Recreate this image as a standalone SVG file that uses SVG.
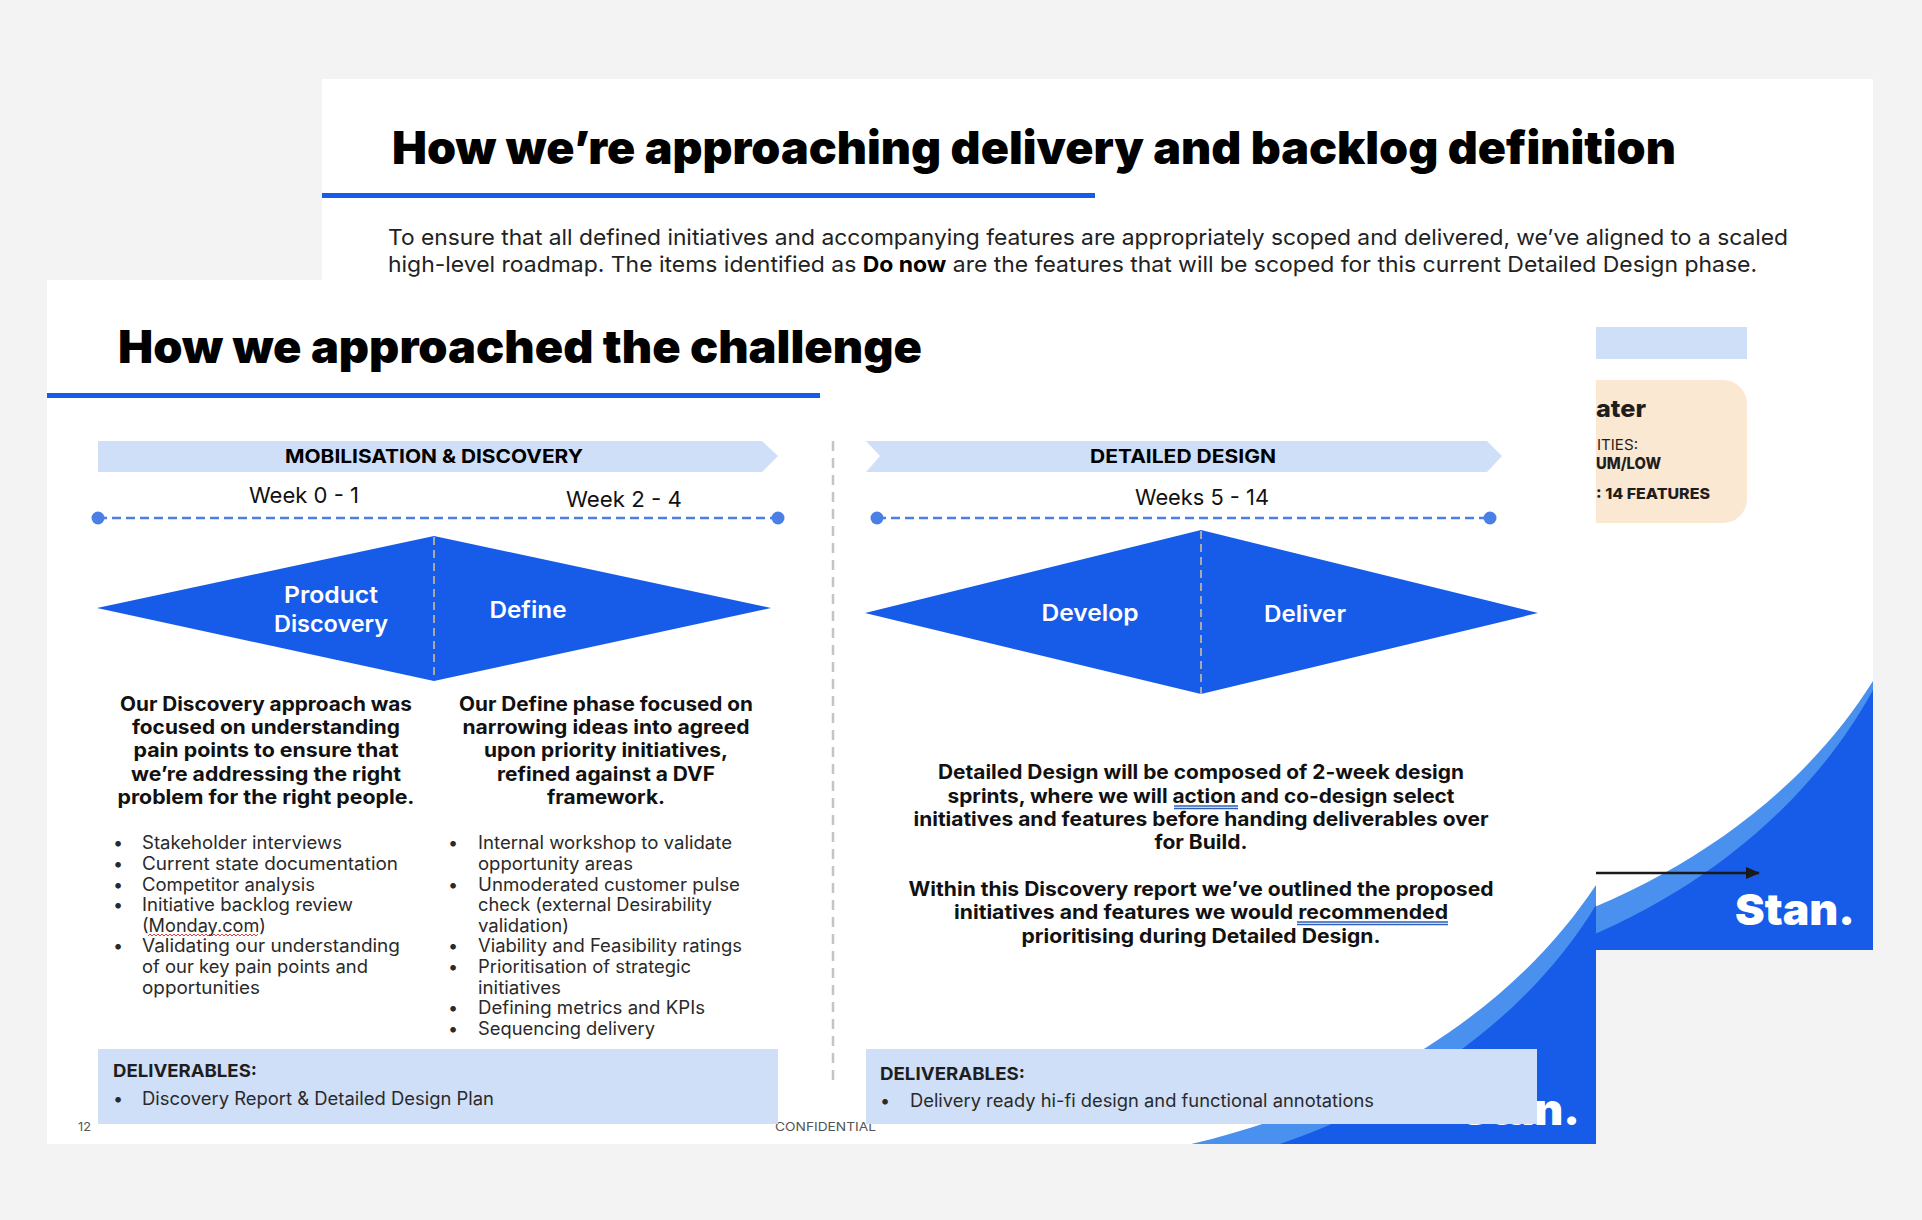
<svg xmlns="http://www.w3.org/2000/svg" width="1922" height="1220" viewBox="0 0 1922 1220">
<defs>
<marker id="ah" markerUnits="userSpaceOnUse" markerWidth="14" markerHeight="12" refX="13" refY="6" orient="auto"><path d="M0,0L14,6L0,12Z" fill="#1a1a1a"/></marker>
<clipPath id="cb"><rect x="322" y="79" width="1551" height="871"/></clipPath>
<clipPath id="cf"><rect x="47" y="280" width="1549" height="864"/></clipPath>
</defs>
<style>
text{font-family:"Inter","Liberation Sans",sans-serif;fill:#1e1e1e}
.t{font-weight:900;font-size:46px;fill:#000}
.p{font-size:22px;fill:#222}
.b{font-weight:700;font-size:20px;fill:#111;text-anchor:middle}
.l{font-size:18px;fill:#2a2a2a}
.h{font-weight:700;font-size:19px;fill:#000;text-anchor:middle}
.w{font-size:22px;fill:#111}
.d{font-weight:600;font-size:23px;fill:#fff;text-anchor:middle}
.f{font-size:12px;fill:#555}
.logo{font-weight:900;font-size:43px;fill:#fff}
.blue{fill:#175ce8}.lb{fill:#4a90ee}.pale{fill:#cfdff8}
.u{stroke:#2f5fb8;stroke-width:1.5;fill:none}
</style>
<rect width="1922" height="1220" fill="#f3f3f3"/>

<g id="back-slide">
<rect x="322" y="79" width="1551" height="871" fill="#fff"/>
<g clip-path="url(#cb)">
<path class="lb" d="M1464,950C1637,908 1787,818 1873,681V950Z"/>
<path class="blue" d="M1554,950C1687,903 1807,811 1873,690V950Z"/>
</g>
<text class="t" x="392" y="164" textLength="1284" lengthAdjust="spacingAndGlyphs">How we’re approaching delivery and backlog definition</text>
<rect class="blue" x="322" y="193" width="773" height="5"/>
<text class="p" x="388" y="245" textLength="1400" lengthAdjust="spacingAndGlyphs">To ensure that all defined initiatives and accompanying features are appropriately scoped and delivered, we’ve aligned to a scaled</text>
<text class="p" x="388" y="272" textLength="1369" lengthAdjust="spacingAndGlyphs">high-level roadmap. The items identified as <tspan font-weight="700" fill="#000">Do now</tspan> are the features that will be scoped for this current Detailed Design phase.</text>
<rect class="pale" x="1500" y="327" width="247" height="32"/>
<rect x="1480" y="380" width="267" height="143" rx="24" fill="#fbe8d3"/>
<text x="1596" y="417" font-size="24" font-weight="800" fill="#000" textLength="50" lengthAdjust="spacingAndGlyphs">ater</text>
<text x="1597" y="450" font-size="15" textLength="41" lengthAdjust="spacingAndGlyphs">ITIES:</text>
<text x="1596" y="469" font-size="16" font-weight="800" fill="#000" textLength="65" lengthAdjust="spacingAndGlyphs">UM/LOW</text>
<text x="1596" y="499" font-size="15" font-weight="800" fill="#000" textLength="114" lengthAdjust="spacingAndGlyphs">: 14 FEATURES</text>
<text class="logo" x="1735" y="925" textLength="120" lengthAdjust="spacingAndGlyphs">Stan.</text>
</g>

<g id="connectors-back"><line x1="1500" y1="873" x2="1759" y2="873" stroke="#1a1a1a" stroke-width="2.5" marker-end="url(#ah)"/></g>

<g id="front-slide">
<rect x="47" y="280" width="1549" height="864" fill="#fff"/>
<g clip-path="url(#cf)">
<path class="lb" d="M1187,1145C1360,1105 1510,1015 1596,885V1145Z"/>
<path class="blue" d="M1277,1145C1410,1100 1530,1015 1596,905V1145Z"/>
</g>
<text class="logo" x="1460" y="1125" textLength="120" lengthAdjust="spacingAndGlyphs">Stan.</text>
<text class="t" x="118" y="363" textLength="804" lengthAdjust="spacingAndGlyphs">How we approached the challenge</text>
<rect class="blue" x="47" y="393" width="773" height="5"/>
<text class="f" x="78" y="1131" textLength="13" lengthAdjust="spacingAndGlyphs">12</text>
<text class="f" x="775" y="1131" textLength="101" lengthAdjust="spacingAndGlyphs">CONFIDENTIAL</text>
</g>

<g id="connectors">
<line x1="833" y1="441" x2="833" y2="1087" stroke="#c4c4c4" stroke-width="2.5" stroke-dasharray="10 7"/>
<line x1="98" y1="518" x2="778" y2="518" stroke="#4a7fe6" stroke-width="2.5" stroke-dasharray="9 5"/>
<circle cx="98" cy="518" r="6.500" fill="#4a7fe6"/><circle cx="778" cy="518" r="6.500" fill="#4a7fe6"/>
<line x1="877" y1="518" x2="1490" y2="518" stroke="#4a7fe6" stroke-width="2.5" stroke-dasharray="9 5"/>
<circle cx="877" cy="518" r="6.500" fill="#4a7fe6"/><circle cx="1490" cy="518" r="6.500" fill="#4a7fe6"/>
</g>

<g id="banner-discovery">
<path class="pale" d="M98,441H762L778,456L762,472H98Z"/>
<text class="h" x="434" y="463" textLength="298" lengthAdjust="spacingAndGlyphs">MOBILISATION &amp; DISCOVERY</text>
</g>
<g id="banner-design">
<path class="pale" d="M866,441H1487L1502,456L1487,472H866L880,456Z"/>
<text class="h" x="1183" y="463" textLength="186" lengthAdjust="spacingAndGlyphs">DETAILED DESIGN</text>
</g>
<g id="weeks">
<text class="w" x="249" y="503" textLength="110" lengthAdjust="spacingAndGlyphs">Week 0 - 1</text>
<text class="w" x="566" y="507" textLength="116" lengthAdjust="spacingAndGlyphs">Week 2 - 4</text>
<text class="w" x="1135" y="505" textLength="134" lengthAdjust="spacingAndGlyphs">Weeks 5 - 14</text>
</g>

<g id="diamond-left">
<path class="blue" d="M97,608L434,536L771,608L434,681Z"/>
<line x1="434" y1="537" x2="434" y2="680" stroke="#a9a9a9" stroke-width="2" stroke-dasharray="8 5"/>
<text class="d" x="331" y="603" textLength="94" lengthAdjust="spacingAndGlyphs">Product</text>
<text class="d" x="331" y="632" textLength="114" lengthAdjust="spacingAndGlyphs">Discovery</text>
<text class="d" x="528" y="618" textLength="77" lengthAdjust="spacingAndGlyphs">Define</text>
</g>
<g id="diamond-right">
<path class="blue" d="M865,613L1201,530L1538,613L1201,694Z"/>
<line x1="1201" y1="531" x2="1201" y2="694" stroke="#a9a9a9" stroke-width="2" stroke-dasharray="8 5"/>
<text class="d" x="1090" y="621" textLength="97" lengthAdjust="spacingAndGlyphs">Develop</text>
<text class="d" x="1305" y="622" textLength="82" lengthAdjust="spacingAndGlyphs">Deliver</text>
</g>

<g id="discovery-text">
<text class="b" x="266" y="711" textLength="292" lengthAdjust="spacingAndGlyphs">Our Discovery approach was</text>
<text class="b" x="266" y="734" textLength="268" lengthAdjust="spacingAndGlyphs">focused on understanding</text>
<text class="b" x="266" y="757" textLength="265" lengthAdjust="spacingAndGlyphs">pain points to ensure that</text>
<text class="b" x="266" y="781" textLength="270" lengthAdjust="spacingAndGlyphs">we’re addressing the right</text>
<text class="b" x="266" y="804" textLength="297" lengthAdjust="spacingAndGlyphs">problem for the right people.</text>
<text class="l" x="113" y="849">•</text><text class="l" x="142" y="849" textLength="200" lengthAdjust="spacingAndGlyphs">Stakeholder interviews</text>
<text class="l" x="113" y="870">•</text><text class="l" x="142" y="870" textLength="256" lengthAdjust="spacingAndGlyphs">Current state documentation</text>
<text class="l" x="113" y="891">•</text><text class="l" x="142" y="891" textLength="173" lengthAdjust="spacingAndGlyphs">Competitor analysis</text>
<text class="l" x="113" y="911">•</text><text class="l" x="142" y="911" textLength="211" lengthAdjust="spacingAndGlyphs">Initiative backlog review</text>
<text class="l" x="142" y="932" textLength="124" lengthAdjust="spacingAndGlyphs">(Monday.com)</text>
<text class="l" x="113" y="952">•</text><text class="l" x="142" y="952" textLength="258" lengthAdjust="spacingAndGlyphs">Validating our understanding</text>
<text class="l" x="142" y="973" textLength="226" lengthAdjust="spacingAndGlyphs">of our key pain points and</text>
<text class="l" x="142" y="994" textLength="118" lengthAdjust="spacingAndGlyphs">opportunities</text>
<path d="M148,936l2,-2l2,2l2,-2l2,2l2,-2l2,2l2,-2l2,2l2,-2l2,2l2,-2l2,2l2,-2l2,2l2,-2l2,2l2,-2l2,2l2,-2l2,2l2,-2l2,2l2,-2l2,2l2,-2l2,2l2,-2l2,2l2,-2l2,2l2,-2l2,2l2,-2l2,2l2,-2l2,2l2,-2l2,2l2,-2l2,2l2,-2l2,2l2,-2l2,2l2,-2l2,2l2,-2l2,2l2,-2l2,2l2,-2l2,2l2,-2l2,2l2,-2" fill="none" stroke="#e04040" stroke-width="1"/>
</g>

<g id="define-text">
<text class="b" x="606" y="711" textLength="294" lengthAdjust="spacingAndGlyphs">Our Define phase focused on</text>
<text class="b" x="606" y="734" textLength="287" lengthAdjust="spacingAndGlyphs">narrowing ideas into agreed</text>
<text class="b" x="606" y="757" textLength="244" lengthAdjust="spacingAndGlyphs">upon priority initiatives,</text>
<text class="b" x="606" y="781" textLength="218" lengthAdjust="spacingAndGlyphs">refined against a DVF</text>
<text class="b" x="606" y="804" textLength="118" lengthAdjust="spacingAndGlyphs">framework.</text>
<text class="l" x="448" y="849">•</text><text class="l" x="478" y="849" textLength="254" lengthAdjust="spacingAndGlyphs">Internal workshop to validate</text>
<text class="l" x="478" y="870" textLength="155" lengthAdjust="spacingAndGlyphs">opportunity areas</text>
<text class="l" x="448" y="891">•</text><text class="l" x="478" y="891" textLength="262" lengthAdjust="spacingAndGlyphs">Unmoderated customer pulse</text>
<text class="l" x="478" y="911" textLength="234" lengthAdjust="spacingAndGlyphs">check (external Desirability</text>
<text class="l" x="478" y="932" textLength="91" lengthAdjust="spacingAndGlyphs">validation)</text>
<text class="l" x="448" y="952">•</text><text class="l" x="478" y="952" textLength="264" lengthAdjust="spacingAndGlyphs">Viability and Feasibility ratings</text>
<text class="l" x="448" y="973">•</text><text class="l" x="478" y="973" textLength="213" lengthAdjust="spacingAndGlyphs">Prioritisation of strategic</text>
<text class="l" x="478" y="994" textLength="83" lengthAdjust="spacingAndGlyphs">initiatives</text>
<text class="l" x="448" y="1014">•</text><text class="l" x="478" y="1014" textLength="227" lengthAdjust="spacingAndGlyphs">Defining metrics and KPIs</text>
<text class="l" x="448" y="1035">•</text><text class="l" x="478" y="1035" textLength="177" lengthAdjust="spacingAndGlyphs">Sequencing delivery</text>
</g>

<g id="design-text">
<text class="b" x="1201" y="779" textLength="526" lengthAdjust="spacingAndGlyphs">Detailed Design will be composed of 2-week design</text>
<text class="b" x="1201" y="803" textLength="507" lengthAdjust="spacingAndGlyphs">sprints, where we will action and co-design select</text>
<text class="b" x="1201" y="826" textLength="575" lengthAdjust="spacingAndGlyphs">initiatives and features before handing deliverables over</text>
<text class="b" x="1201" y="849" textLength="93" lengthAdjust="spacingAndGlyphs">for Build.</text>
<text class="b" x="1201" y="896" textLength="585" lengthAdjust="spacingAndGlyphs">Within this Discovery report we’ve outlined the proposed</text>
<text class="b" x="1201" y="919" textLength="494" lengthAdjust="spacingAndGlyphs">initiatives and features we would recommended</text>
<text class="b" x="1201" y="943" textLength="359" lengthAdjust="spacingAndGlyphs">prioritising during Detailed Design.</text>
<path class="u" d="M1174,806H1238M1174,808.500H1238M1297,922H1448M1297,924.500H1448"/>
</g>

<g id="deliverables-left">
<rect class="pale" x="98" y="1049" width="680" height="75"/>
<text x="113" y="1077" font-size="18" font-weight="700" textLength="144" lengthAdjust="spacingAndGlyphs">DELIVERABLES:</text>
<text class="l" x="113" y="1105">•</text><text class="l" x="142" y="1105" textLength="352" lengthAdjust="spacingAndGlyphs">Discovery Report &amp; Detailed Design Plan</text>
</g>
<g id="deliverables-right">
<rect class="pale" x="866" y="1049" width="671" height="75"/>
<text x="880" y="1080" font-size="18" font-weight="700" textLength="145" lengthAdjust="spacingAndGlyphs">DELIVERABLES:</text>
<text class="l" x="880" y="1107">•</text><text class="l" x="910" y="1107" textLength="464" lengthAdjust="spacingAndGlyphs">Delivery ready hi-fi design and functional annotations</text>
</g>
</svg>
